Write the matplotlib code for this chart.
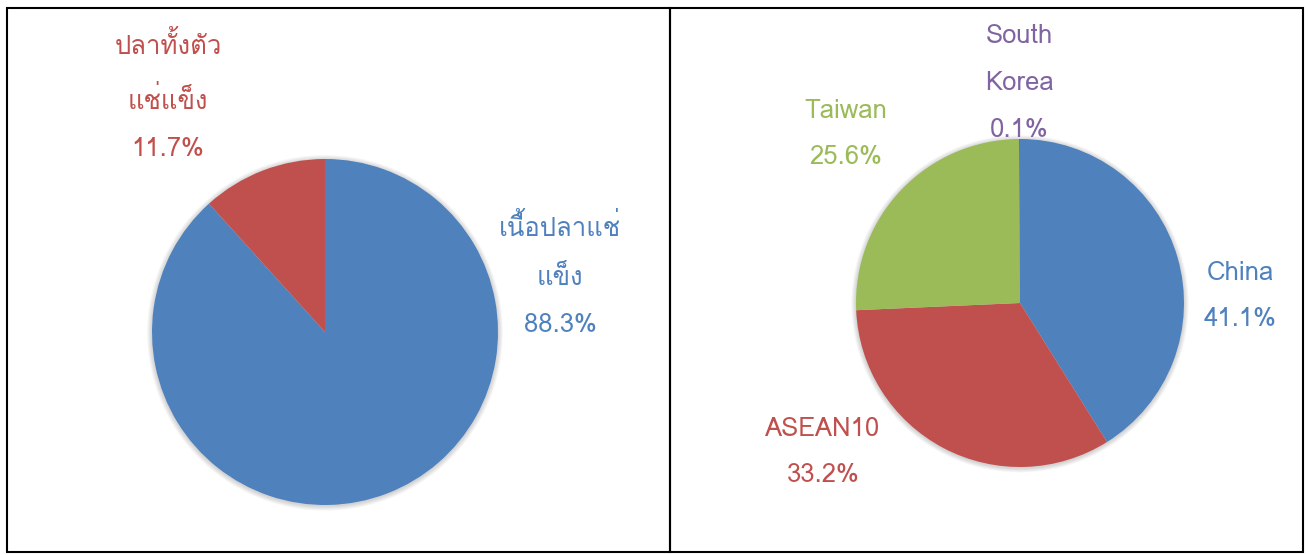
import matplotlib
matplotlib.use("Agg")
import matplotlib.pyplot as plt
from matplotlib import font_manager
from matplotlib.ft2font import FT2Font
from matplotlib.patches import Rectangle, Circle

# left pie: product type share
prod_labels = ["เนื้อปลาแช่\nแข็ง", "ปลาทั้งตัว\nแช่แข็ง"]
prod_values = [88.3, 11.7]

# right pie: share by market
mkt_labels = ["China", "ASEAN10", "Taiwan", "South\nKorea"]
mkt_values = [41.1, 33.2, 25.6, 0.1]

blue, red, green, purple = "#4F81BD", "#C0504D", "#9BBB59", "#8064A2"


def find_thai_font():
    for f in font_manager.fontManager.ttflist:
        try:
            if 0x0E1B in FT2Font(f.fname).get_charmap():
                return f.name
        except Exception:
            pass
    return "DejaVu Sans"


thai = find_thai_font()
plt.rcParams["font.family"] = [thai, "DejaVu Sans"]

W, H = 1309, 555
fig = plt.figure(figsize=(W / 100, H / 100), dpi=100)


def pie_axes(cx, cy, r):
    return fig.add_axes([(cx - r) / W, (H - cy - r) / H, 2 * r / W, 2 * r / H])


def soft_shadow(ax):
    # faint blurred edge like the office-style pie shadow
    for i in range(5):
        ax.add_patch(Circle((0, -0.005), 1.004 + 0.006 * i, color="black",
                            alpha=0.035, lw=0, zorder=0, clip_on=False))


def finish(ax):
    # pie() resets the limits, so fix them afterwards
    ax.set_xlim(-1, 1)
    ax.set_ylim(-1, 1)
    ax.axis("off")


def label(ax, x, y, text, color):
    # positions in pie-radius units
    ax.text(x, y, text, color=color, fontsize=18.5, ha="center", va="center",
            linespacing=2.2, clip_on=False)


# left panel
r1 = 173
ax1 = pie_axes(325, 332, r1)
soft_shadow(ax1)
ax1.pie(prod_values, colors=[blue, red], startangle=90, counterclock=False,
        radius=1, wedgeprops=dict(linewidth=0, zorder=2))
finish(ax1)
label(ax1, (560 - 325) / r1, (332 - 275) / r1,
      prod_labels[0] + "\n" + f"{prod_values[0]:.1f}%", blue)
label(ax1, (168 - 325) / r1, (332 - 96) / r1,
      prod_labels[1] + "\n" + f"{prod_values[1]:.1f}%", red)

# right panel
r2 = 164
ax2 = pie_axes(1020, 303, r2)
soft_shadow(ax2)
ax2.pie(mkt_values, colors=[blue, red, green, purple], startangle=90,
        counterclock=False, radius=1, wedgeprops=dict(linewidth=0, zorder=2))
finish(ax2)
pos = [(1240, 296), (823, 452), (846, 134), (1019, 83)]
cols = [blue, red, green, purple]
for (px, py), lab, v, c in zip(pos, mkt_labels, mkt_values, cols):
    label(ax2, (px - 1020) / r2, (303 - py) / r2, f"{lab}\n{v:.1f}%", c)

# panel borders
for x0, x1 in [(7, 670), (670, 1303)]:
    fig.patches.append(Rectangle((x0 / W, (H - 552) / H), (x1 - x0) / W,
                                 (552 - 8) / H, transform=fig.transFigure,
                                 fill=False, edgecolor="black", linewidth=1.5))

fig.savefig("out.png", dpi=100, facecolor="white")
